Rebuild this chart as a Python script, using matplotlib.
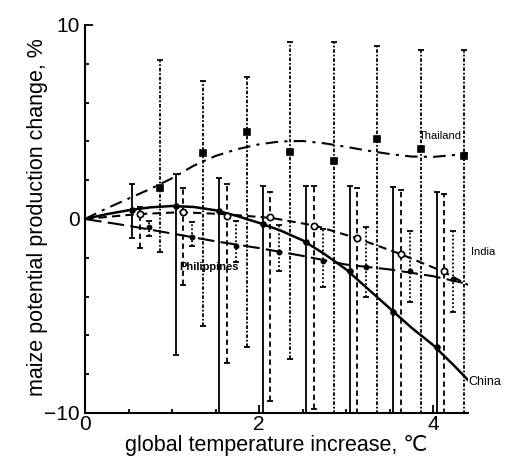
import matplotlib
matplotlib.use("Agg")
import matplotlib.pyplot as plt
import numpy as np
from matplotlib.ticker import MultipleLocator

plt.rcParams['font.family'] = ['Liberation Sans', 'DejaVu Sans']

# ---- data ----
temps = [0.5, 1.0, 1.5, 2.0, 2.5, 3.0, 3.5, 4.0]

china_mean = [0.45, 0.67, 0.4, -0.25, -1.2, -2.7, -4.8, -6.6]
china_hi = [1.8, 2.3, 2.1, 1.7, 1.7, 1.7, 1.65, 1.4]
china_lo = [-1.0, -7.0, -11, -11, -11, -11, -11, -11]

india_mean = [0.25, 0.37, 0.15, 0.1, -0.35, -1.0, -1.8, -2.7]
india_hi = [0.6, 1.6, 1.8, 1.4, 1.7, 1.6, 1.5, 1.3]
india_lo = [-1.5, -3.4, -7.4, -9.4, -9.8, -11, -11, -11]

phil_mean = [-0.4, -0.95, -1.4, -1.7, -2.15, -2.5, -2.7, -3.1]
phil_hi = [-0.1, -0.15, -0.1, -0.3, -0.5, -0.4, -0.6, -0.6]
phil_lo = [-0.9, -1.4, -2.2, -2.7, -3.5, -4.0, -4.3, -4.8]

thai_mean = [1.6, 3.4, 4.5, 3.45, 3.0, 4.1, 3.6, 3.25]
thai_hi = [8.2, 7.1, 7.3, 9.1, 9.1, 8.9, 8.7, 8.7]
thai_lo = [-1.7, -5.5, -6.6, -7.2, -11, -11, -11, -11]

# trend curves
china_cx = [0, 0.25, 0.5, 0.75, 1.0, 1.25, 1.5, 1.75, 2.0, 2.25, 2.5, 2.75, 3.0, 3.25, 3.5, 3.75, 4.0, 4.25, 4.4]
china_cy = [0, 0.25, 0.45, 0.6, 0.67, 0.62, 0.45, 0.15, -0.2, -0.6, -1.1, -1.8, -2.6, -3.6, -4.6, -5.6, -6.5, -7.6, -8.3]

india_cx = [0, 0.6, 1.1, 1.6, 2.15, 2.65, 3.13, 3.62, 4.11, 4.4]
india_cy = [0, 0.25, 0.35, 0.25, 0.05, -0.35, -1.0, -1.8, -2.7, -3.4]

phil_cx = [0, 0.5, 1.0, 1.5, 2.0, 2.5, 3.0, 3.5, 4.0, 4.4]
phil_cy = [0, -0.35, -0.75, -1.15, -1.5, -1.9, -2.35, -2.6, -2.95, -3.35]

thai_cx = [0, 0.25, 0.5, 0.75, 1.0, 1.25, 1.5, 1.75, 2.0, 2.25, 2.5, 2.75, 3.0, 3.25, 3.5, 3.75, 4.0, 4.25, 4.4]
thai_cy = [0, 0.55, 1.05, 1.55, 2.1, 2.75, 3.25, 3.6, 3.85, 4.0, 4.02, 3.9, 3.72, 3.52, 3.35, 3.22, 3.2, 3.3, 3.4]

fig = plt.figure(figsize=(5.12, 4.57), dpi=100)
ax = fig.add_axes([0.166, 0.0963, 0.748, 0.849])

def draw(offset, mean, hi, lo, ls, marker, mfc, ms, cx, cy, cls, lw):
    x = np.array(temps) + offset
    m = np.array(mean); h = np.array(hi); l = np.array(lo)
    eb = ax.errorbar(x, m, yerr=[m - l, h - m], fmt='none', ecolor='black',
                     elinewidth=1.3, capsize=2.5, capthick=1.3)
    eb[2][0].set_linestyle(ls)
    ax.plot(cx, cy, color='black', linestyle=cls, linewidth=lw)
    ax.plot(x, m, linestyle='none', marker=marker, markerfacecolor=mfc,
            markeredgecolor='black', markersize=ms, markeredgewidth=1.2)

draw(0.04, china_mean, china_hi, china_lo, '-', 'o', 'black', 3.5,
     china_cx, china_cy, '-', 1.8)
draw(0.13, india_mean, india_hi, india_lo, (0, (3, 2)), 'o', 'white', 4.5,
     india_cx, india_cy, (0, (4, 2.5)), 1.5)
draw(0.23, phil_mean, phil_hi, phil_lo, (0, (1, 1.2)), 'o', 'black', 3,
     phil_cx, phil_cy, (0, (8, 3)), 1.5)
draw(0.36, thai_mean, thai_hi, thai_lo, (0, (2, 1, 1, 1)), 's', 'black', 4,
     thai_cx, thai_cy, (0, (6, 3, 1.5, 3)), 1.5)

ax.text(3.83, 4.3, 'Thailand', fontsize=8, ha='left', va='center')
ax.text(4.43, -1.7, 'India', fontsize=8, ha='left', va='center', clip_on=False)
ax.text(4.4, -8.4, 'China', fontsize=9, ha='left', va='center', clip_on=False)
ax.text(1.43, -2.5, 'Philippines', fontsize=8, fontweight='bold', ha='center', va='center')

ax.set_xlim(0, 4.4)
ax.set_ylim(-10, 10)
ax.spines['top'].set_visible(False)
ax.spines['right'].set_visible(False)
ax.spines['left'].set_linewidth(1.5)
ax.spines['bottom'].set_linewidth(1.5)
ax.xaxis.set_major_locator(MultipleLocator(2))
ax.xaxis.set_minor_locator(MultipleLocator(0.5))
ax.yaxis.set_major_locator(MultipleLocator(10))
ax.yaxis.set_minor_locator(MultipleLocator(2))
ax.tick_params(which='both', direction='in', width=1.3)
ax.tick_params(which='major', length=6, labelsize=15, pad=4)
ax.tick_params(axis='x', which='major', pad=1.5)
ax.tick_params(which='minor', length=3)

ax.set_xlabel('global temperature increase, \u2103', fontsize=15.5)
ax.set_ylabel('maize potential production change, %', fontsize=15.5)
ax.xaxis.set_label_coords(0.5, -0.058)
ax.yaxis.set_label_coords(-0.097, 0.505)

fig.savefig('out.png', dpi=100)
